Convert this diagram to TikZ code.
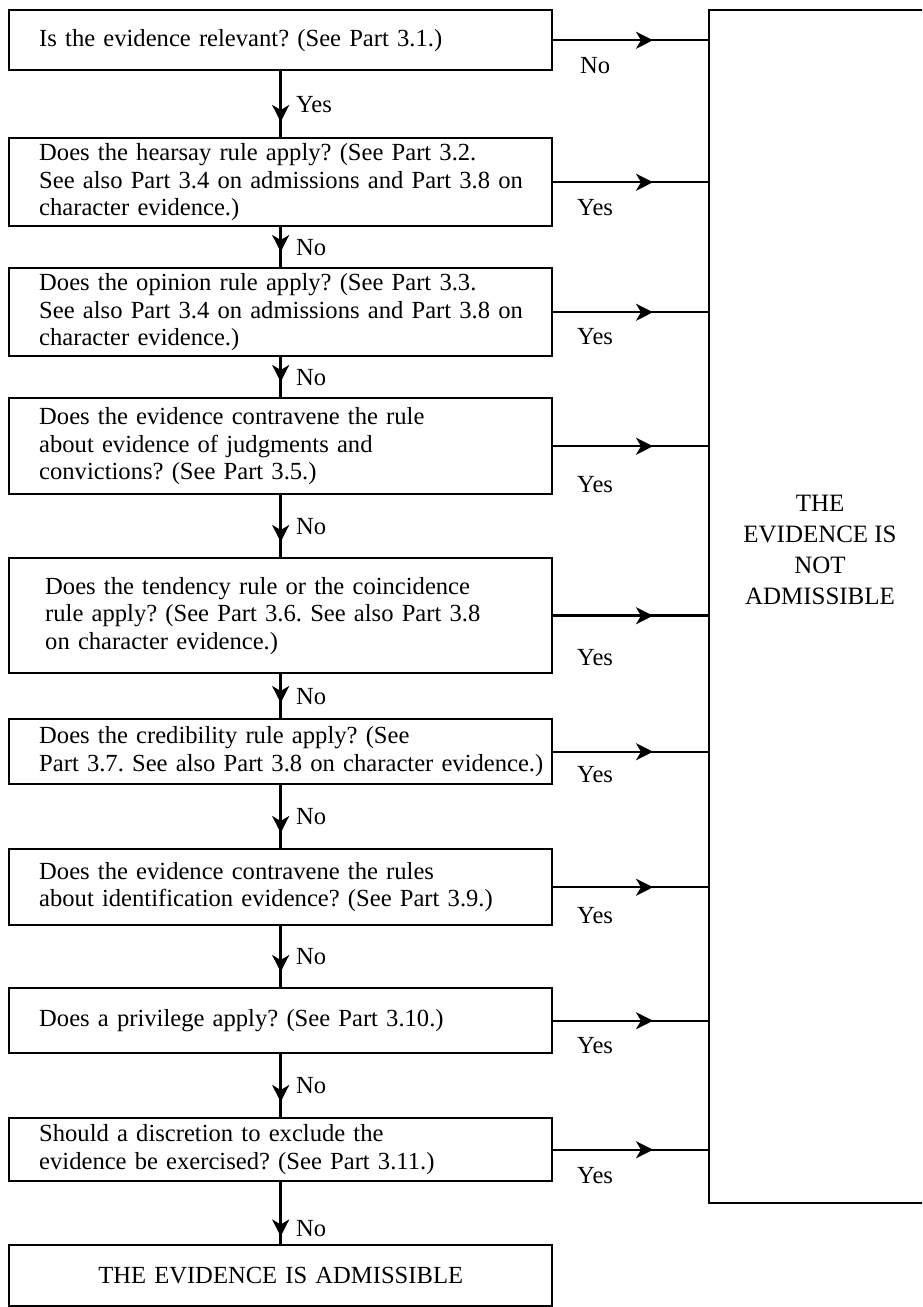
\documentclass[tikz,border=0pt]{standalone}
\usepackage{fontspec}
\setmainfont{Liberation Serif}
\usetikzlibrary{arrows.meta,decorations.markings}
\frenchspacing

\tikzset{
	qbox/.style={draw, line width=1.4pt, anchor=north west, text width=10.66cm,
		inner xsep=0.1cm, inner ysep=0pt, align=left,
		font=\fontsize{14}{15.6}\selectfont,
		execute at begin node={\leftskip=0.5cm\hyphenpenalty=10000}},
	endbox/.style={draw, line width=1.4pt, anchor=north west, text width=10.66cm,
		inner xsep=0.1cm, inner ysep=0pt, align=center,
		font=\fontsize{14}{15.6}\selectfont},
	flow/.style={line width=1.4pt, postaction={decorate},
		decoration={markings, mark=at position #1 with {\arrow{Stealth[length=3.4mm,width=3.4mm,inset=1mm]}}}},
	flow/.default={-0.3cm},
	lbl/.style={font=\fontsize{14}{15.6}\selectfont, inner sep=1pt},
}

\begin{document}
\begin{tikzpicture}[x=0.02cm, y=-0.02cm]
	\path[use as bounding box] (0,0) rectangle (922,1307);
	\clip (0,0) rectangle (922,1307);

	% questions
	\node[qbox, minimum height=1.2cm] (q1) at (8,9) {Is the evidence relevant? (See Part 3.1.)};
	\node[qbox, minimum height=1.76cm] (q2) at (8,137) {Does the hearsay rule apply? (See Part 3.2.\\ See also Part 3.4 on admissions and Part 3.8 on\\ character evidence.)};
	\node[qbox, minimum height=1.76cm] (q3) at (8,267) {Does the opinion rule apply? (See Part 3.3.\\ See also Part 3.4 on admissions and Part 3.8 on\\ character evidence.)};
	\node[qbox, minimum height=1.92cm] (q4) at (8,397) {Does the evidence contravene the rule\\ about evidence of judgments and\\ convictions? (See Part 3.5.)};
	\node[qbox, minimum height=2.3cm] (q5) at (8,557) {\hspace*{0.12cm}Does the tendency rule or the coincidence\\ \hspace*{0.12cm}rule apply? (See Part 3.6. See also Part 3.8\\ \hspace*{0.12cm}on character evidence.)};
	\node[qbox, minimum height=1.3cm] (q6) at (8,718) {Does the credibility rule apply? (See\\ Part 3.7. See also Part 3.8 on character evidence.)};
	\node[qbox, minimum height=1.52cm] (q7) at (8,848) {Does the evidence contravene the rules\\ about identification evidence? (See Part 3.9.)};
	\node[qbox, minimum height=1.3cm] (q8) at (8,987) {Does a privilege apply? (See Part 3.10.)};
	\node[qbox, minimum height=1.26cm] (q9) at (8,1117) {Should a discretion to exclude the\\ evidence be exercised? (See Part 3.11.)};
	\node[endbox, minimum height=1.22cm] (adm) at (8,1244) {THE EVIDENCE IS ADMISSIBLE};

	% outcome on the right
	\node[draw, line width=1.4pt, anchor=north west, inner sep=0pt, minimum width=4.64cm, minimum height=23.86cm] (notadm) at (708,9) {};
	\node[lbl, align=center, font=\fontsize{14.2}{17.6}\selectfont] (notadmtxt) at (820,550) {THE\\ EVIDENCE IS\\ NOT\\ ADMISSIBLE};

	% down the chain
	\draw[flow] (q1.south) -- (q2.north) node[lbl, midway, right=0.25cm] {Yes};
	\draw[flow] (q2.south) -- (q3.north) node[lbl, midway, right=0.25cm] {No};
	\draw[flow] (q3.south) -- (q4.north) node[lbl, midway, right=0.25cm] {No};
	\draw[flow] (q4.south) -- (q5.north) node[lbl, midway, right=0.25cm] {No};
	\draw[flow] (q5.south) -- (q6.north) node[lbl, midway, right=0.25cm] {No};
	\draw[flow] (q6.south) -- (q7.north) node[lbl, midway, right=0.25cm] {No};
	\draw[flow] (q7.south) -- (q8.north) node[lbl, midway, right=0.25cm] {No};
	\draw[flow] (q8.south) -- (q9.north) node[lbl, midway, right=0.25cm] {No};
	\draw[flow=-0.15cm] (q9.south) -- (adm.north) node[lbl, pos=0.75, right=0.25cm] {No};

	% across to the right
	\draw[flow=-1.1cm] (q1.east) -- (q1.east -| notadm.west) node[lbl, pos=0.27, yshift=-0.5cm] {No};
	\draw[flow=-1.1cm] (q2.east) -- (q2.east -| notadm.west) node[lbl, pos=0.27, yshift=-0.5cm] {Yes};
	\draw[flow=-1.1cm] (q3.east) -- (q3.east -| notadm.west) node[lbl, pos=0.27, yshift=-0.48cm] {Yes};
	\draw[flow=-1.1cm] (q4.east) -- (q4.east -| notadm.west) node[lbl, pos=0.27, yshift=-0.76cm] {Yes};
	\draw[flow=-1.1cm] (q5.east) -- (q5.east -| notadm.west) node[lbl, pos=0.27, yshift=-0.84cm] {Yes};
	\draw[flow=-1.1cm] (q6.east) -- (q6.east -| notadm.west) node[lbl, pos=0.27, yshift=-0.46cm] {Yes};
	\draw[flow=-1.1cm] (q7.east) -- (q7.east -| notadm.west) node[lbl, pos=0.27, yshift=-0.56cm] {Yes};
	\draw[flow=-1.1cm] (q8.east) -- (q8.east -| notadm.west) node[lbl, pos=0.27, yshift=-0.5cm] {Yes};
	\draw[flow=-1.1cm] (q9.east) -- (q9.east -| notadm.west) node[lbl, pos=0.27, yshift=-0.52cm] {Yes};
\end{tikzpicture}
\end{document}
